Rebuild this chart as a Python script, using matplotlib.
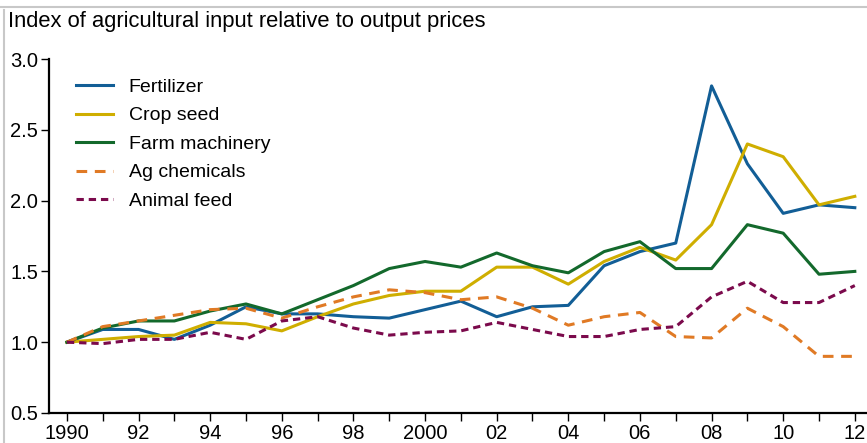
import matplotlib
matplotlib.use("Agg")
import matplotlib.pyplot as plt
from matplotlib.lines import Line2D
from matplotlib.ticker import MultipleLocator, FormatStrFormatter

plt.rcParams["font.family"] = ["Liberation Sans", "DejaVu Sans"]

years = list(range(1990, 2013))

fertilizer = [1.00, 1.09, 1.09, 1.02, 1.12, 1.25, 1.20, 1.20, 1.18, 1.17, 1.23, 1.29,
              1.18, 1.25, 1.26, 1.54, 1.64, 1.70, 2.81, 2.26, 1.91, 1.97, 1.95]
crop_seed = [1.00, 1.02, 1.04, 1.05, 1.14, 1.13, 1.08, 1.18, 1.27, 1.33, 1.36, 1.36,
             1.53, 1.53, 1.41, 1.57, 1.67, 1.58, 1.83, 2.40, 2.31, 1.97, 2.03]
farm_machinery = [1.00, 1.10, 1.15, 1.15, 1.22, 1.27, 1.20, 1.30, 1.40, 1.52, 1.57, 1.53,
                  1.63, 1.54, 1.49, 1.64, 1.71, 1.52, 1.52, 1.83, 1.77, 1.48, 1.50]
ag_chemicals = [1.00, 1.11, 1.15, 1.19, 1.23, 1.24, 1.17, 1.25, 1.32, 1.37, 1.35, 1.30,
                1.32, 1.24, 1.12, 1.18, 1.21, 1.04, 1.03, 1.24, 1.11, 0.90, 0.90]
animal_feed = [1.00, 0.99, 1.02, 1.02, 1.07, 1.02, 1.15, 1.18, 1.10, 1.05, 1.07, 1.08,
               1.14, 1.09, 1.04, 1.04, 1.09, 1.11, 1.32, 1.43, 1.28, 1.28, 1.40]

tick_years = list(range(1990, 2013, 2))
tick_labels = ["1990", "92", "94", "96", "98", "2000", "02", "04", "06", "08", "10", "12"]

fig = plt.figure(figsize=(8.67, 4.43), dpi=100)
ax = fig.add_axes([49 / 867, 1 - 413 / 443, 1 - 49 / 867, (413 - 59) / 443])

lw = 2.2
ax.plot(years, fertilizer, color="#125e96", lw=lw, label="Fertilizer")
ax.plot(years, crop_seed, color="#cfae00", lw=lw, label="Crop seed")
ax.plot(years, farm_machinery, color="#13692c", lw=lw, label="Farm machinery")
ax.plot(years, ag_chemicals, color="#e07a25", lw=lw, ls=(0, (3.5, 2.5)), label="Ag chemicals")
ax.plot(years, animal_feed, color="#7b0a4c", lw=lw, ls=(0, (2.4, 1.6)), label="Animal feed")

ax.set_xlim(1989.5, 2012.34)
ax.set_ylim(0.5, 3.0)
ax.set_xticks(tick_years)
ax.set_xticklabels(tick_labels)
ax.xaxis.set_minor_locator(MultipleLocator(1))
ax.yaxis.set_major_locator(MultipleLocator(0.5))
ax.yaxis.set_major_formatter(FormatStrFormatter("%.1f"))

for side in ["top", "right"]:
    ax.spines[side].set_visible(False)
for side in ["left", "bottom"]:
    ax.spines[side].set_linewidth(1.6)

ax.tick_params(axis="both", which="both", direction="out", length=6, width=1,
               labelsize=14.5, colors="black", pad=2)
ax.tick_params(axis="x", which="both", pad=2)

ax.legend(loc="upper left", bbox_to_anchor=(0.012, 0.995), frameon=False, fontsize=14,
          handlelength=1.9, handletextpad=0.8, labelspacing=0.56)

fig.text(8 / 867, 1 - 21 / 443, "Index of agricultural input relative to output prices",
         fontsize=15.8, va="center", ha="left")

# grey frame lines at top and left of the graphic
fig.add_artist(Line2D([0, 1], [1 - 7 / 443] * 2, transform=fig.transFigure,
                      color="#c8c8c8", lw=1.5))
fig.add_artist(Line2D([4 / 867] * 2, [0, 1 - 10 / 443], transform=fig.transFigure,
                      color="#c8c8c8", lw=1.5))

fig.savefig("out.png", dpi=100)
